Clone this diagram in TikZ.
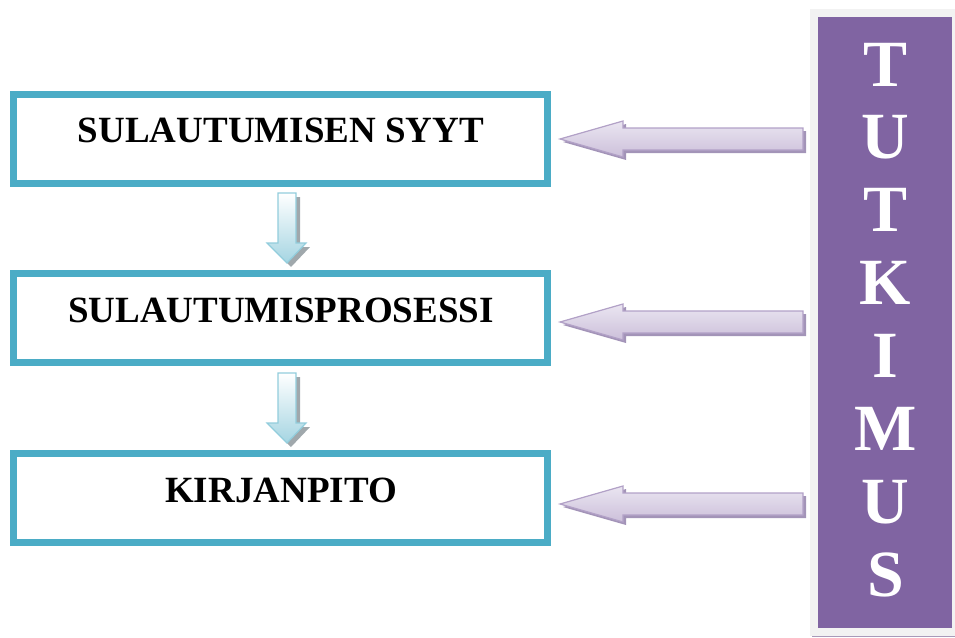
\documentclass[tikz,border=0pt]{standalone}
\usepackage{fontspec}
\setmainfont{Liberation Serif}
\usetikzlibrary{calc}
\definecolor{teal}{HTML}{4BACC6}
\definecolor{purp}{HTML}{8064A2}
\definecolor{lavtop}{HTML}{EAE5F1}
\definecolor{lavbot}{HTML}{CCC0DA}
\definecolor{lavline}{HTML}{B2A1C7}
\definecolor{lavshadow}{HTML}{A394B8}
\definecolor{bluebot}{HTML}{A5D5E2}
\definecolor{blueline}{HTML}{92CDDC}
\definecolor{greyshadow}{HTML}{A0A8AC}
\tikzset{
  box/.style={draw=teal, line width=7pt, fill=white, minimum width=534pt, minimum height=89pt, inner sep=0pt},
  boxtext/.style={anchor=base, font=\fontsize{37}{40}\selectfont\bfseries, inner sep=0pt},
  letter/.style={anchor=base, text=white, font=\fontsize{66}{70}\selectfont\bfseries, inner sep=0pt},
  harrowfill/.style={top color=lavtop, bottom color=lavbot, draw=lavline, line width=1.2pt, line join=miter},
  harrowshadow/.style={fill=lavshadow},
  varrowfill/.style={top color=white, bottom color=bluebot, draw=blueline, line width=1.2pt},
  varrowshadow/.style={fill=greyshadow}
}
\begin{document}
\begin{tikzpicture}[x=1pt,y=-1pt]
\useasboundingbox (0,0) rectangle (955,637);
% right column
\fill[black!5] (810,9) rectangle (955,636);
\draw[lavline!80!gray, line width=1pt] (812,636) -- (955,636);
\node[fill=purp, minimum width=134pt, minimum height=611pt, inner sep=0pt, anchor=north west] (col) at (818,17) {};
\foreach \L [count=\i from 0] in {T,U,T,K,I,M,U,S}{
  \node[letter] (l\i) at (885.5,{86+72.9*\i}) {\L};
}
% boxes
\node[box] (b1) at (280.5,139) {};
\node[box] (b2) at (280.5,318) {};
\node[box] (b3) at (280.5,498) {};
\node[boxtext] (t1) at (281,142) {SULAUTUMISEN SYYT};
\node[boxtext] (t2) at (281,322) {SULAUTUMISPROSESSI};
\node[boxtext] (t3) at (281,502) {KIRJANPITO};
% horizontal arrows
\foreach \y in {139,322,504}{
  \fill[harrowshadow] (563,\y+3) -- (626,\y-15) -- (626,\y-8) -- (806,\y-8) -- (806,\y+14) -- (626,\y+14) -- (626,\y+21) -- cycle;
  \draw[harrowfill] (560,\y) -- (623,\y-18) -- (623,\y-11) -- (803,\y-11) -- (803,\y+11) -- (623,\y+11) -- (623,\y+18) -- cycle;
}
% vertical arrows
\foreach \t in {193,373}{
  \fill[varrowshadow] (282,\t+4) -- (300,\t+4) -- (300,\t+54) -- (310,\t+54) -- (291,\t+74) -- (271,\t+54) -- (282,\t+54) -- cycle;
  \draw[varrowfill] (278,\t) -- (296,\t) -- (296,\t+50) -- (306,\t+50) -- (287,\t+70) -- (267,\t+50) -- (278,\t+50) -- cycle;
}
\end{tikzpicture}
\end{document}
